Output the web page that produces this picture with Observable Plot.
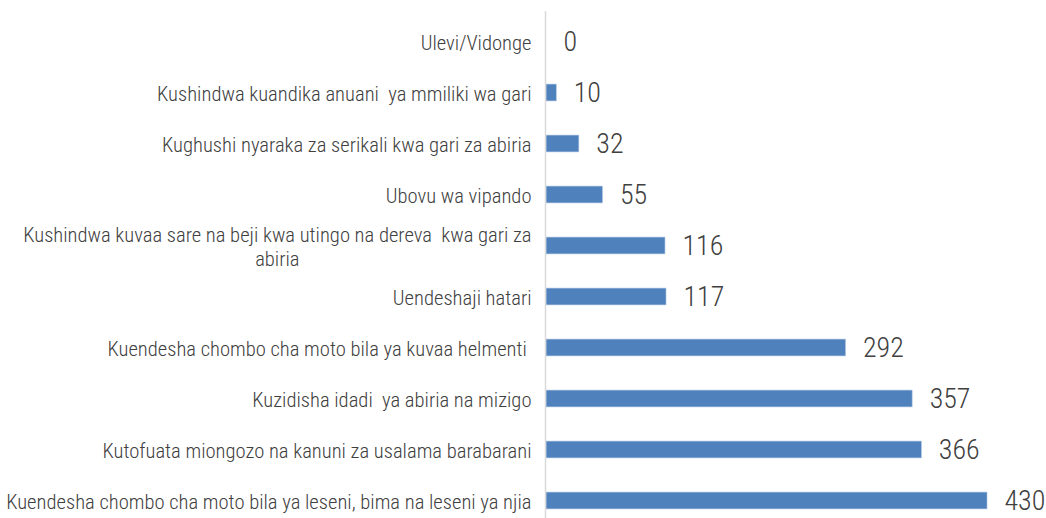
<!DOCTYPE html>
<html>
<head>
<meta charset="utf-8">
<script src="https://cdn.jsdelivr.net/npm/d3@7"></script>
<script src="https://cdn.jsdelivr.net/npm/@observablehq/plot@0.6"></script>
<style>
  html, body { margin: 0; padding: 0; background: #fff; }
  #chart svg { display: block; }
</style>
</head>
<body>
<div id="chart"></div>
<script>
const categories = [
  "Ulevi/Vidonge",
  "Kushindwa kuandika anuani  ya mmiliki wa gari",
  "Kughushi nyaraka za serikali kwa gari za abiria",
  "Ubovu wa vipando",
  "Kushindwa kuvaa sare na beji kwa utingo na dereva  kwa gari za\nabiria",
  "Uendeshaji hatari",
  "Kuendesha chombo cha moto bila ya kuvaa helmenti ",
  "Kuzidisha idadi  ya abiria na mizigo",
  "Kutofuata miongozo na kanuni za usalama barabarani",
  "Kuendesha chombo cha moto bila ya leseni, bima na leseni ya njia"
];
const values = [0, 10, 32, 55, 116, 117, 292, 357, 366, 430];

const data = categories.map((c, i) => ({category: c, value: values[i]}));
const FONT = "'Liberation Sans Narrow', 'Arial Narrow', 'Roboto Condensed', 'Liberation Sans', sans-serif";

const chart = Plot.plot({
  width: 1046,
  height: 518,
  marginLeft: 546,
  marginRight: 59,
  marginTop: 11,
  marginBottom: 0,
  style: {fontFamily: FONT, background: "#fff", overflow: "visible"},
  x: {domain: [0, 430], axis: null},
  y: {domain: categories, range: [12.2, 529.6], padding: 0, label: null},
  marks: [
    Plot.axisY({tickSize: 0, tickPadding: 15, fontSize: 20.6, fontWeight: 300, color: "#404040", textAnchor: "end", lineHeight: 1.2}),
    Plot.barX(data, {x: "value", y: "category", fill: "#4F81BD", stroke: "#A7C0DE", strokeWidth: 0.6, insetTop: 17.1, insetBottom: 17.1}),
    Plot.ruleX([0], {stroke: "#D9D9D9", strokeWidth: 1.5, dx: -1}),
    Plot.text(data, {x: "value", y: "category", text: d => String(d.value), dx: 17, textAnchor: "start", fontSize: 28, fontWeight: 300, fill: "#404040"})
  ]
});
document.getElementById("chart").appendChild(chart);

// center multi-line tick labels like the reference
d3.select(chart).selectAll("g[aria-label='y-axis tick label'] text").each(function() {
  const tspans = d3.select(this).selectAll("tspan");
  if (tspans.size() > 1) {
    let maxW = 0;
    tspans.each(function() { maxW = Math.max(maxW, this.getComputedTextLength()); });
    d3.select(this).attr("text-anchor", "middle");
    tspans.attr("x", -maxW / 2);
  }
});
</script>
</body>
</html>
